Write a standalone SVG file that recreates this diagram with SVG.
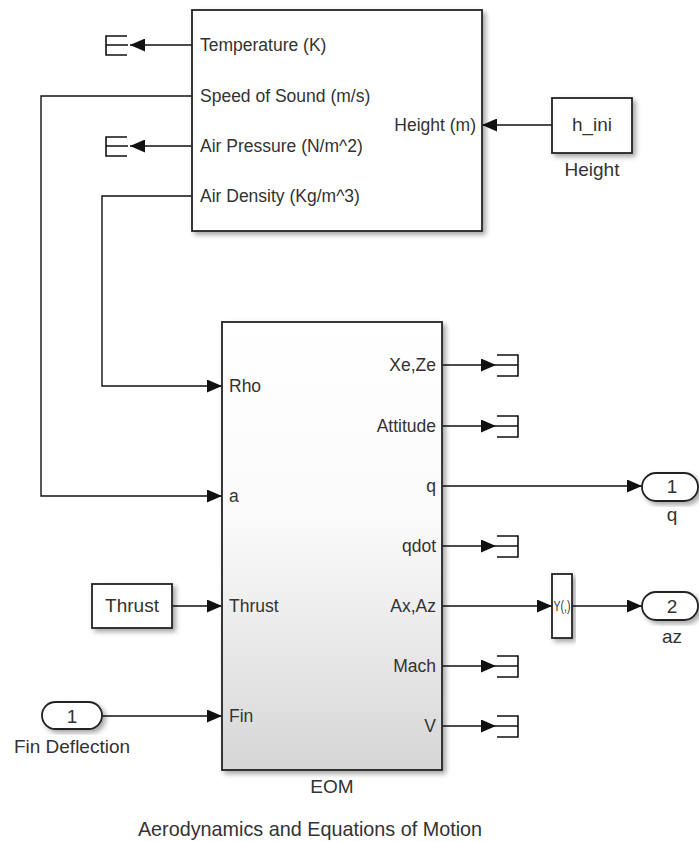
<svg xmlns="http://www.w3.org/2000/svg" width="699" height="842" viewBox="0 0 699 842">
<defs>
<style>
.blk{fill:#fff;stroke:#222;stroke-width:1.8;filter:url(#sh)}
.eom{fill:url(#g);stroke:#222;stroke-width:1.8;filter:url(#sh)}
.port{font-family:"Liberation Sans",Arial,sans-serif;font-size:17.5px;fill:#333}
.lbl{font-family:"Liberation Sans",Arial,sans-serif;font-size:19px;fill:#333}
.ln{fill:none;stroke:#111;stroke-width:1.4}
.term{fill:none;stroke:#111;stroke-width:1.6}
.ah{fill:#111}
</style>
<linearGradient id="g" x1="0" y1="0" x2="0" y2="1">
<stop offset="0" stop-color="#ffffff"/>
<stop offset="0.45" stop-color="#fafafa"/>
<stop offset="1" stop-color="#d6d6d6"/>
</linearGradient>
<filter id="sh" x="-20%" y="-20%" width="140%" height="140%">
<feDropShadow dx="3" dy="3" stdDeviation="2.5" flood-color="#000" flood-opacity="0.35"/>
</filter>
<marker id="arr" viewBox="0 0 15 13" refX="15" refY="6.5" markerWidth="15" markerHeight="13" markerUnits="userSpaceOnUse" orient="auto">
<path d="M0,0 L15,6.5 L0,13 Z" class="ah"/>
</marker>
</defs>

<g id="connectors">
<path class="ln" d="M192,45 H130" marker-end="url(#arr)"/>
<path class="ln" d="M192,146 H130" marker-end="url(#arr)"/>
<path class="ln" d="M192,96 H41 V496 H222" marker-end="url(#arr)"/>
<path class="ln" d="M192,196 H102 V386 H222" marker-end="url(#arr)"/>
<path class="ln" d="M552,125 H482" marker-end="url(#arr)"/>
<path class="ln" d="M172,606 H222" marker-end="url(#arr)"/>
<path class="ln" d="M102,716 H222" marker-end="url(#arr)"/>
<path class="ln" d="M442,365 H496" marker-end="url(#arr)"/>
<path class="ln" d="M442,426 H496" marker-end="url(#arr)"/>
<path class="ln" d="M442,486 H642" marker-end="url(#arr)"/>
<path class="ln" d="M442,546 H496" marker-end="url(#arr)"/>
<path class="ln" d="M442,606 H552" marker-end="url(#arr)"/>
<path class="ln" d="M572,606 H642" marker-end="url(#arr)"/>
<path class="ln" d="M442,666 H496" marker-end="url(#arr)"/>
<path class="ln" d="M442,726 H496" marker-end="url(#arr)"/>
</g>

<g id="atmosphere">
<rect class="blk" x="192" y="10" width="290" height="221"/>
<text class="port" x="200" y="51">Temperature (K)</text>
<text class="port" x="200" y="102">Speed of Sound (m/s)</text>
<text class="port" x="200" y="152">Air Pressure (N/m^2)</text>
<text class="port" x="200" y="202">Air Density (Kg/m^3)</text>
<text class="port" x="476" y="131" text-anchor="end">Height (m)</text>
</g>

<g id="term-temperature"><path class="term" d="M127,36 H106 V55 H127 M106,45 H128"/></g>
<g id="term-pressure"><path class="term" d="M127,137 H106 V156 H127 M106,146 H128"/></g>

<g id="height">
<rect class="blk" x="552" y="98" width="80" height="55"/>
<text class="lbl" x="592" y="131" text-anchor="middle">h_ini</text>
<text class="lbl" x="592" y="176" text-anchor="middle">Height</text>
</g>

<g id="eom">
<rect class="eom" x="222" y="322" width="220" height="448"/>
<text class="port" x="229" y="392">Rho</text>
<text class="port" x="229" y="502">a</text>
<text class="port" x="229" y="612">Thrust</text>
<text class="port" x="229" y="722">Fin</text>
<text class="port" x="436" y="371" text-anchor="end">Xe,Ze</text>
<text class="port" x="436" y="432" text-anchor="end">Attitude</text>
<text class="port" x="436" y="492" text-anchor="end">q</text>
<text class="port" x="436" y="552" text-anchor="end">qdot</text>
<text class="port" x="436" y="612" text-anchor="end">Ax,Az</text>
<text class="port" x="436" y="672" text-anchor="end">Mach</text>
<text class="port" x="436" y="732" text-anchor="end">V</text>
<text class="lbl" x="332" y="793" text-anchor="middle">EOM</text>
</g>

<g id="term-xeze"><path class="term" d="M497,355 H518 V376 H497 M496,365 H518"/></g>
<g id="term-attitude"><path class="term" d="M497,416 H518 V437 H497 M496,426 H518"/></g>
<g id="term-qdot"><path class="term" d="M497,536 H518 V557 H497 M496,546 H518"/></g>
<g id="term-mach"><path class="term" d="M497,656 H518 V677 H497 M496,666 H518"/></g>
<g id="term-v"><path class="term" d="M497,716 H518 V737 H497 M496,726 H518"/></g>

<g id="thrust">
<rect class="blk" x="92" y="584" width="80" height="44"/>
<text class="lbl" x="132" y="612" text-anchor="middle">Thrust</text>
</g>

<g id="fin-inport">
<rect class="blk" x="42" y="702" width="60" height="27" rx="13.5"/>
<text class="lbl" x="72" y="723" text-anchor="middle">1</text>
<text class="lbl" x="72" y="753" text-anchor="middle">Fin Deflection</text>
</g>

<g id="selector">
<rect class="blk" x="552" y="574" width="20" height="64"/>
<text class="port" x="562" y="611" text-anchor="middle" style="font-size:14px" textLength="17" lengthAdjust="spacingAndGlyphs">Y(,)</text>
</g>

<g id="q-outport">
<rect class="blk" x="642" y="473" width="56" height="28" rx="14"/>
<text class="lbl" x="672" y="493" text-anchor="middle">1</text>
<text class="lbl" x="672" y="521" text-anchor="middle">q</text>
</g>

<g id="az-outport">
<rect class="blk" x="642" y="592" width="56" height="28" rx="14"/>
<text class="lbl" x="672" y="613" text-anchor="middle">2</text>
<text class="lbl" x="672" y="643" text-anchor="middle">az</text>
</g>

<text class="lbl" x="310" y="836" text-anchor="middle" style="font-size:19.8px">Aerodynamics and Equations of Motion</text>
</svg>
